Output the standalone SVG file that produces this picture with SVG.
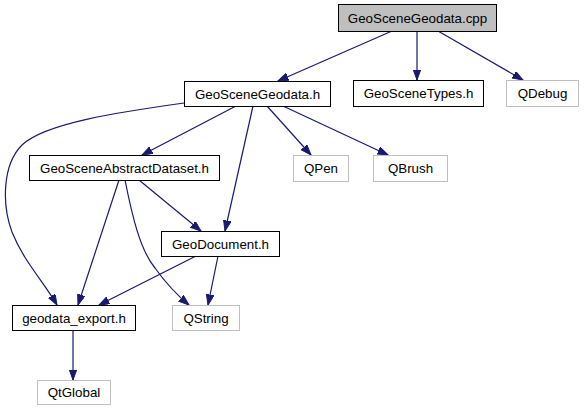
<svg xmlns="http://www.w3.org/2000/svg" width="584" height="411" viewBox="0 0 584 411">
<defs>
<style>
.n rect{fill:#fff;stroke:#000;stroke-width:1}
.g rect{fill:#fff;stroke:#bfbfbf;stroke-width:1}
.root rect{fill:#bfbfbf;stroke:#000;stroke-width:1}
text{font-family:"Liberation Sans",Arial,Helvetica,sans-serif;font-size:13.33px;text-anchor:middle;fill:#000}
.e path{fill:none;stroke:#191970;stroke-width:1.2;marker-end:url(#a)}
</style>
<marker id="a" markerUnits="userSpaceOnUse" markerWidth="11" markerHeight="8" refX="10.5" refY="3.8" orient="auto">
<path d="M0,0 L10.5,3.8 L0,7.6 Z" fill="#191970" stroke="#191970" stroke-width="1"/>
</marker>
</defs>
<rect width="584" height="411" fill="#fff"/>
<g class="e" id="edges">
<path d="M392,31 L278,81"/>
<path d="M417,31 L417,80"/>
<path d="M438,31 L523,80"/>
<path d="M236,106 L142,155"/>
<path d="M184,103 C120,112 45,123 22,145 C2,165 2,205 12,232 C24,262 44,282 57,305"/>
<path d="M253,106 L225,231"/>
<path d="M267,106 L311,155"/>
<path d="M283,106 L388,155"/>
<path d="M119,180 L78,305"/>
<path d="M125,180 C132,215 140,250 155,268 C165,282 177,295 189,305"/>
<path d="M139,180 L201,231"/>
<path d="M196,256 L99,305"/>
<path d="M218,256 L208,305"/>
<path d="M73,330 L73,380"/>
</g>
<g id="GeoSceneGeodata_cpp" class="root"><rect x="338.5" y="4.5" width="158" height="27"/><text x="417.5" y="23">GeoSceneGeodata.cpp</text></g>
<g id="GeoSceneGeodata_h" class="n"><rect x="184.5" y="81.5" width="146" height="25"/><text x="257.5" y="98.5">GeoSceneGeodata.h</text></g>
<g id="GeoSceneTypes_h" class="n"><rect x="353.5" y="80.5" width="130" height="26"/><text x="418.5" y="98">GeoSceneTypes.h</text></g>
<g id="QDebug" class="g"><rect x="506.5" y="80.5" width="72" height="26"/><text x="542.5" y="98">QDebug</text></g>
<g id="GeoSceneAbstractDataset_h" class="n"><rect x="29.5" y="155.5" width="190" height="25"/><text x="124.5" y="172.5">GeoSceneAbstractDataset.h</text></g>
<g id="QPen" class="g"><rect x="293.5" y="155.5" width="55" height="26"/><text x="321" y="173">QPen</text></g>
<g id="QBrush" class="g"><rect x="373.5" y="155.5" width="74" height="26"/><text x="410.5" y="173">QBrush</text></g>
<g id="GeoDocument_h" class="n"><rect x="161.5" y="231.5" width="118" height="25"/><text x="220.5" y="248.5">GeoDocument.h</text></g>
<g id="geodata_export_h" class="n"><rect x="12.5" y="305.5" width="123" height="25"/><text x="74" y="322.5">geodata_export.h</text></g>
<g id="QString" class="g"><rect x="172.5" y="305.5" width="67" height="25"/><text x="206" y="322.5">QString</text></g>
<g id="QtGlobal" class="g"><rect x="37.5" y="380.5" width="73" height="24"/><text x="74" y="397">QtGlobal</text></g>
</svg>
